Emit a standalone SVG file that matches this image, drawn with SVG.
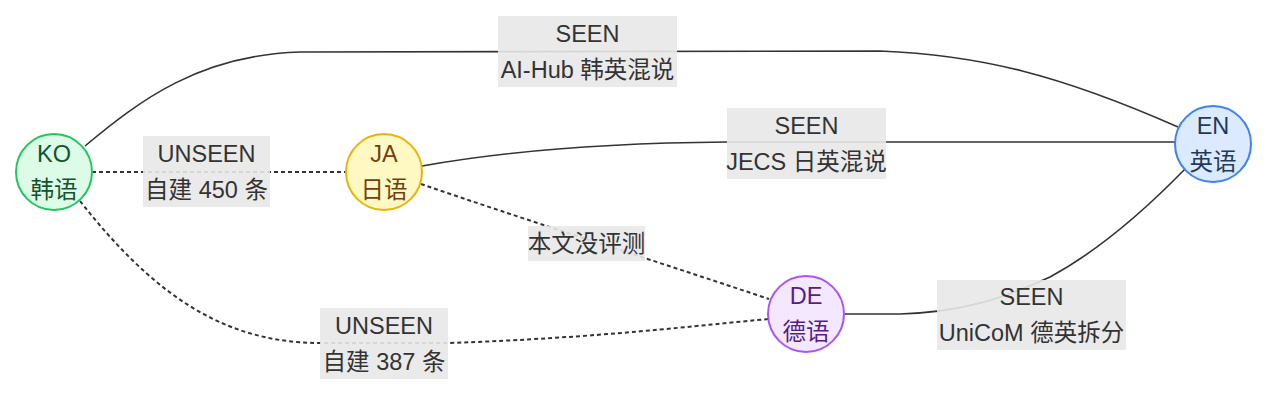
<svg xmlns="http://www.w3.org/2000/svg" width="1284" height="400" viewBox="0 0 1284 400">
<style>
.e{fill:none;stroke:#333;stroke-width:1.6}
.d{fill:none;stroke:#333;stroke-width:2;stroke-dasharray:4 3}
.lb{fill:#e8e8e8;fill-opacity:0.9}
text{font-family:"Liberation Sans","Noto Sans CJK SC",sans-serif;font-size:23.5px;text-anchor:middle;dominant-baseline:central}
.lt{fill:#333}
.n circle{stroke-width:2}
</style>
<rect width="1284" height="400" fill="#fff"/>
<g id="connectors">
<path class="e" d="M85,146 C140,100 200,55 300,52 L880,51 C980,55 1060,75 1178,127"/>
<path class="d" d="M92,172 L346,172"/>
<path class="e" d="M422,166 C500,152 600,143 727,142 L1175,142"/>
<path class="d" d="M421,184 C520,218 640,256 769,299"/>
<path class="d" d="M80,201 C150,290 220,343 320,343 L448,343 C600,338 700,325 769,319"/>
<path class="e" d="M845,314 L900,314 C960,312 1000,300 1050,277 C1100,250 1150,205 1186,168"/>
</g>
<g id="edge-labels">
<g id="l-ko-en"><rect class="lb" x="498" y="16" width="179" height="71"/><text class="lt" x="587.5" y="33.5">SEEN</text><text class="lt" x="587.5" y="69.5">AI-Hub 韩英混说</text></g>
<g id="l-ko-ja"><rect class="lb" x="143" y="136" width="127" height="71"/><text class="lt" x="206.5" y="153.5">UNSEEN</text><text class="lt" x="206.5" y="189.5">自建 450 条</text></g>
<g id="l-ja-en"><rect class="lb" x="727" y="108" width="159" height="71"/><text class="lt" x="806.5" y="125.5">SEEN</text><text class="lt" x="806.5" y="161.5">JECS 日英混说</text></g>
<g id="l-ja-de"><rect class="lb" x="528" y="226" width="117" height="35"/><text class="lt" x="586.5" y="243.5">本文没评测</text></g>
<g id="l-ko-de"><rect class="lb" x="320" y="308" width="128" height="71"/><text class="lt" x="384" y="325.5">UNSEEN</text><text class="lt" x="384" y="361.5">自建 387 条</text></g>
<g id="l-de-en"><rect class="lb" x="937" y="280" width="189" height="70"/><text class="lt" x="1031.5" y="297">SEEN</text><text class="lt" x="1031.5" y="333">UniCoM 德英拆分</text></g>
</g>
<g id="KO" class="n"><circle cx="54" cy="172" r="38" fill="#dcfce7" stroke="#22c55e"/><text x="54" y="154" fill="#14532d">KO</text><text x="54" y="190" fill="#14532d">韩语</text></g>
<g id="JA" class="n"><circle cx="384" cy="172" r="38" fill="#fef9c3" stroke="#eab308"/><text x="384" y="154" fill="#713f12">JA</text><text x="384" y="190" fill="#713f12">日语</text></g>
<g id="EN" class="n"><circle cx="1213" cy="144" r="38" fill="#dbeafe" stroke="#3b82f6"/><text x="1213" y="126" fill="#1e3a5f">EN</text><text x="1213" y="162" fill="#1e3a5f">英语</text></g>
<g id="DE" class="n"><circle cx="806" cy="314" r="38" fill="#f3e8ff" stroke="#a855f7"/><text x="806" y="296" fill="#581c87">DE</text><text x="806" y="332" fill="#581c87">德语</text></g>
</svg>
